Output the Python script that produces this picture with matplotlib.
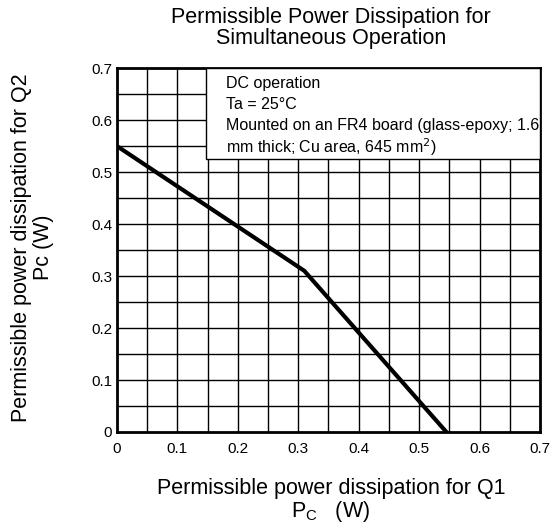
import matplotlib.pyplot as plt
import numpy as np

plt.rcParams['font.family'] = ['Liberation Sans', 'DejaVu Sans']

# derating curve for simultaneous operation
pc_q1 = [0.0, 0.31, 0.545]
pc_q2 = [0.55, 0.31, 0.0]
tick_vals = [0, 0.1, 0.2, 0.3, 0.4, 0.5, 0.6, 0.7]
tick_labels = ["0", "0.1", "0.2", "0.3", "0.4", "0.5", "0.6", "0.7"]

fig = plt.figure(figsize=(5.57, 5.24), dpi=100)
ax = fig.add_axes([0.21, 0.1756, 0.7595, 0.6944])

ax.set_xlim(0, 0.7)
ax.set_ylim(0, 0.7)
grid = np.arange(0, 0.7001, 0.05)
for g in grid[1:-1]:
    ax.axvline(g, color='black', lw=1, zorder=1)
    ax.axhline(g, color='black', lw=1, zorder=1)

ax.plot(pc_q1, pc_q2, color='black', lw=3, zorder=3)

ax.set_xticks(tick_vals)
ax.set_xticklabels(tick_labels, fontsize=11)
ax.set_yticks(tick_vals)
ax.set_yticklabels(tick_labels, fontsize=11)
ax.tick_params(axis='x', length=0, pad=7)
ax.tick_params(axis='y', length=0, pad=3.5)
for s in ax.spines.values():
    s.set_linewidth(2)

# info box
ax.add_patch(plt.Rectangle((0.147, 0.525), 0.553, 0.175, facecolor='white',
                           edgecolor='black', lw=1, zorder=4))
info = ["DC operation", "Ta = 25°C", "Mounted on an FR4 board (glass-epoxy; 1.6",
        "mm thick; Cu area, 645 mm$^2$)"]
for i, t in enumerate(info):
    ax.text(0.180, 0.671 - i * 0.041, t, fontsize=11.5, va='center', ha='left', zorder=5)

fig.text(0.594, 0.946, "Permissible Power Dissipation for\nSimultaneous Operation",
         ha='center', va='center', fontsize=15.5, linespacing=1.0)
fig.text(0.594, 0.044, "Permissible power dissipation for Q1\nP$_\\mathregular{C}$   (W)",
         ha='center', va='center', fontsize=15.5, linespacing=1.0)
fig.text(0.058, 0.528, "Permissible power dissipation for Q2\nPc (W)",
         ha='center', va='center', fontsize=15.5, rotation=90, linespacing=1.1)

plt.savefig('out.png', dpi=100)
